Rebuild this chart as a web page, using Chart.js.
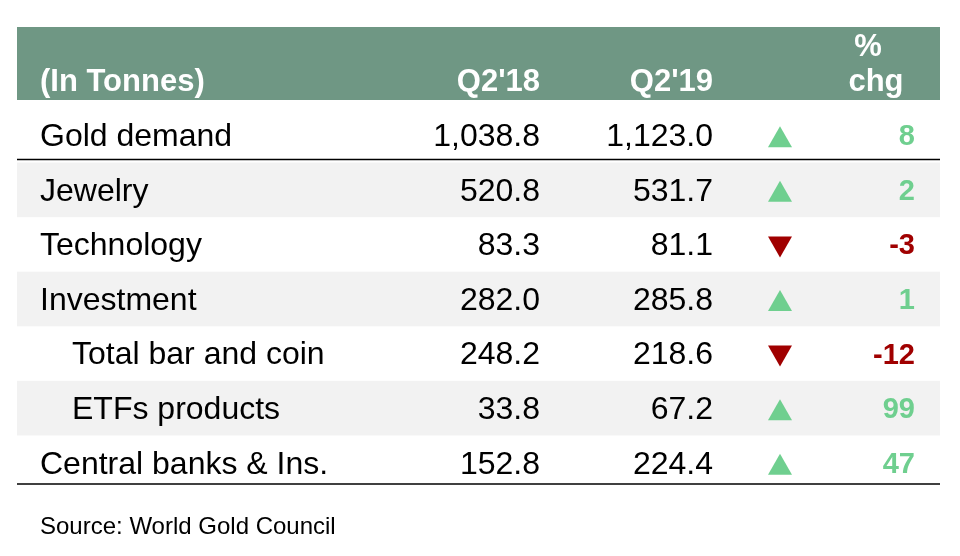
<!DOCTYPE html>
<html>
<head>
<meta charset="utf-8">
<script src="https://cdn.jsdelivr.net/npm/chart.js@4/dist/chart.umd.min.js"></script>
<style>
  html, body { margin: 0; padding: 0; background: #fff; }
  #wrap { width: 960px; height: 556px; position: relative; }
</style>
</head>
<body>
<div id="wrap"><canvas id="tbl"></canvas></div>
<script>
const headers = ["(In Tonnes)", "Q2'18", "Q2'19", "%\nchg"];
const rowLabels = ["Gold demand", "Jewelry", "Technology", "Investment", "Total bar and coin", "ETFs products", "Central banks & Ins."];
const indented = [false, false, false, false, true, true, false];
const q2_18 = [1038.8, 520.8, 83.3, 282.0, 248.2, 33.8, 152.8];
const q2_19 = [1123.0, 531.7, 81.1, 285.8, 218.6, 67.2, 224.4];
const pctChg = [8, 2, -3, 1, -12, 99, 47];
const source = "Source: World Gold Council";

const FONT = '"Liberation Sans", Arial, Helvetica, sans-serif';
const GREEN = "#6fcf8f", RED = "#a00000", HEAD = "#6f9784", BAND = "#f2f2f2";
const fmt = v => v.toLocaleString("en-US", { minimumFractionDigits: 1, maximumFractionDigits: 1 });

const tablePlugin = {
  id: "tablePlugin",
  beforeDatasetsDraw(chart) {
    const { ctx, chartArea: a, scales: { x, y } } = chart;
    const L = 17, R = 940;
    const rowH = y.getPixelForValue(1) - y.getPixelForValue(0);
    ctx.save();
    // header band
    ctx.fillStyle = HEAD;
    ctx.fillRect(L, 27, R - L, a.top - 8 - 27);
    ctx.fillStyle = "#fff";
    ctx.font = "bold 31px " + FONT;
    ctx.textBaseline = "alphabetic";
    ctx.textAlign = "left";
    ctx.fillText(headers[0], 40, 91);
    ctx.textAlign = "right";
    ctx.fillText(headers[1], 540, 91);
    ctx.fillText(headers[2], 713, 91);
    ctx.textAlign = "center";
    const hp = headers[3].split("\n");
    ctx.fillText(hp[0], 868, 56);
    ctx.fillText(hp[1], 876, 91);
    // row bands
    rowLabels.forEach((_, i) => {
      const cy = y.getPixelForValue(i);
      if (i % 2 === 1) { ctx.fillStyle = BAND; ctx.fillRect(L, cy - rowH / 2, R - L, rowH); }
    });
    // lines
    ctx.strokeStyle = "#000"; ctx.lineWidth = 1.5;
    const l1 = y.getPixelForValue(0) + rowH / 2 - 3;
    ctx.beginPath(); ctx.moveTo(L, l1); ctx.lineTo(R, l1); ctx.stroke();
    ctx.beginPath(); ctx.moveTo(L, a.bottom - 6); ctx.lineTo(R, a.bottom - 6); ctx.stroke();
    // cells
    rowLabels.forEach((lab, i) => {
      const cy = y.getPixelForValue(i) + 2;
      ctx.textBaseline = "middle";
      ctx.font = "32px " + FONT;
      ctx.fillStyle = "#000";
      ctx.textAlign = "left";
      ctx.fillText(lab, indented[i] ? 72 : 40, cy);
      ctx.textAlign = "right";
      ctx.fillText(fmt(q2_18[i]), x.getPixelForValue(540), cy);
      ctx.fillText(fmt(q2_19[i]), x.getPixelForValue(713), cy);
      const up = pctChg[i] >= 0, col = up ? GREEN : RED;
      const ax = x.getPixelForValue(780);
      ctx.fillStyle = col;
      ctx.beginPath();
      if (up) { ctx.moveTo(ax - 12, cy + 10); ctx.lineTo(ax + 12, cy + 10); ctx.lineTo(ax, cy - 11); }
      else { ctx.moveTo(ax - 12, cy - 10); ctx.lineTo(ax + 12, cy - 10); ctx.lineTo(ax, cy + 11); }
      ctx.closePath(); ctx.fill();
      ctx.font = "bold 29px " + FONT;
      ctx.fillText(String(pctChg[i]), x.getPixelForValue(915), cy);
    });
    ctx.fillStyle = "#000";
    ctx.font = "24px " + FONT;
    ctx.textAlign = "left";
    ctx.textBaseline = "alphabetic";
    ctx.fillText(source, 40, 534);
    ctx.restore();
  }
};

new Chart(document.getElementById("tbl").getContext("2d"), {
  type: "bar",
  data: { labels: rowLabels, datasets: [{ data: [], backgroundColor: "transparent" }] },
  options: {
    responsive: true, maintainAspectRatio: false, animation: false,
    indexAxis: "y",
    layout: { padding: { top: 108, bottom: 66, left: 0, right: 0 } },
    plugins: { legend: { display: false }, tooltip: { enabled: false } },
    scales: {
      x: { type: "linear", min: 0, max: 960, display: false },
      y: { type: "category", display: false }
    }
  },
  plugins: [tablePlugin]
});
</script>
</body>
</html>
